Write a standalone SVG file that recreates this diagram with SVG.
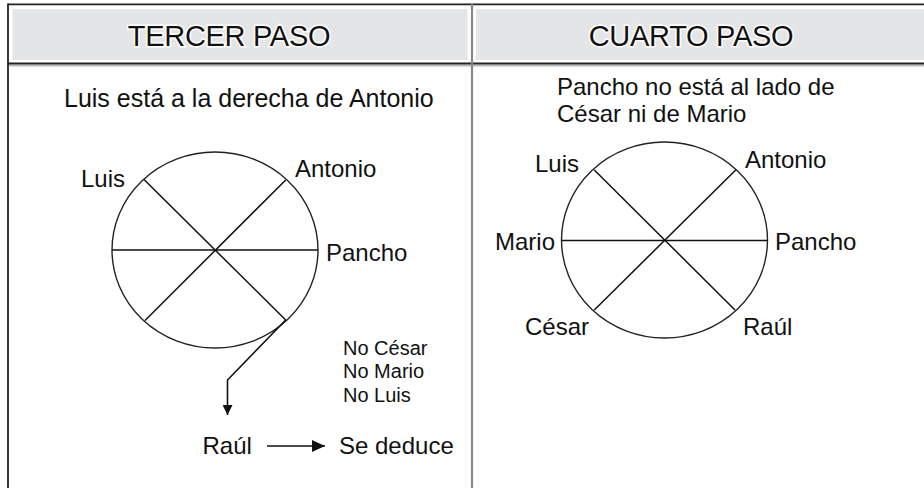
<svg xmlns="http://www.w3.org/2000/svg" width="924" height="488" viewBox="0 0 924 488">
<defs>
<style>
text{font-family:"Liberation Sans",Arial,sans-serif;fill:#111}
.hdr{font-size:29px;text-anchor:middle;stroke:#fff;stroke-width:3;paint-order:stroke;letter-spacing:-0.3px}
.ttl{font-size:25px}
.ttl2{font-size:24px}
.lbl{font-size:24px}
.sm{font-size:20px}
.rim{fill:none;stroke:#222;stroke-width:1.4}
.spk{stroke:#111;stroke-width:1.5}
.con{fill:none;stroke:#111;stroke-width:1.6}
</style>
<marker id="ah" viewBox="0 0 10 10" refX="10" refY="5" markerWidth="10" markerHeight="10" markerUnits="userSpaceOnUse" orient="auto">
<path d="M0,0 L10,5 L0,10 Z" fill="#111"/>
</marker>
<marker id="ah2" viewBox="0 0 13 12" refX="13" refY="6" markerWidth="13" markerHeight="12" markerUnits="userSpaceOnUse" orient="auto">
<path d="M0,0 L13,6 L0,12 Z" fill="#111"/>
</marker>
</defs>
<rect width="924" height="488" fill="#fff"/>
<g id="table">
<rect x="12.5" y="9" width="455" height="51" fill="#e4e5e7"/>
<rect x="476" y="9" width="448" height="51" fill="#e4e5e7"/>
<line x1="8" y1="65.5" x2="924" y2="65.5" stroke="#bbb" stroke-width="2"/>
<line x1="8" y1="4.3" x2="924" y2="4.3" stroke="#222" stroke-width="1.8"/>
<line x1="8" y1="63.5" x2="924" y2="63.5" stroke="#222" stroke-width="1.8"/>
<line x1="8" y1="3.5" x2="8" y2="488" stroke="#222" stroke-width="1.8"/>
<line x1="472" y1="3.5" x2="472" y2="488" stroke="#888" stroke-width="2.2"/>
<text class="hdr" x="229" y="46">TERCER PASO</text>
<text class="hdr" x="691" y="46">CUARTO PASO</text>
</g>
<g id="paso3">
<text class="ttl" x="64" y="107">Luis está a la derecha de Antonio</text>
<g id="circle3">
<ellipse class="rim" cx="215" cy="250" rx="103" ry="98"/>
<line class="spk" x1="112" y1="250" x2="318" y2="250"/>
<line class="spk" x1="144" y1="179.5" x2="285.7" y2="320"/>
<line class="spk" x1="285.7" y1="180" x2="145" y2="320.5"/>
</g>
<text class="lbl" x="81" y="187">Luis</text>
<text class="lbl" x="295" y="177">Antonio</text>
<text class="lbl" x="326" y="261">Pancho</text>
<text class="sm" x="343" y="355">No César</text>
<text class="sm" x="343" y="378">No Mario</text>
<text class="sm" x="343" y="401.5">No Luis</text>
<text class="lbl" x="202.5" y="453.5">Raúl</text>
<text class="lbl" x="339" y="453.5">Se deduce</text>
</g>
<g id="connectors">
<path class="con" d="M285.7,320 L227.5,380 L227.5,415" marker-end="url(#ah)"/>
<line class="con" x1="267" y1="446" x2="325" y2="446" marker-end="url(#ah2)"/>
</g>
<g id="paso4">
<text class="ttl2" x="557" y="95">Pancho no está al lado de</text>
<text class="ttl2" x="557" y="122">César ni de Mario</text>
<g id="circle4">
<ellipse class="rim" cx="664.5" cy="240" rx="103" ry="98"/>
<line class="spk" x1="561.5" y1="240.5" x2="767.5" y2="240.5"/>
<line class="spk" x1="594.3" y1="170" x2="735" y2="310"/>
<line class="spk" x1="735.7" y1="170" x2="594.3" y2="310"/>
</g>
<text class="lbl" x="535" y="172">Luis</text>
<text class="lbl" x="745" y="168">Antonio</text>
<text class="lbl" x="495" y="250">Mario</text>
<text class="lbl" x="775" y="250">Pancho</text>
<text class="lbl" x="525" y="335">César</text>
<text class="lbl" x="743" y="335">Raúl</text>
</g>
</svg>
